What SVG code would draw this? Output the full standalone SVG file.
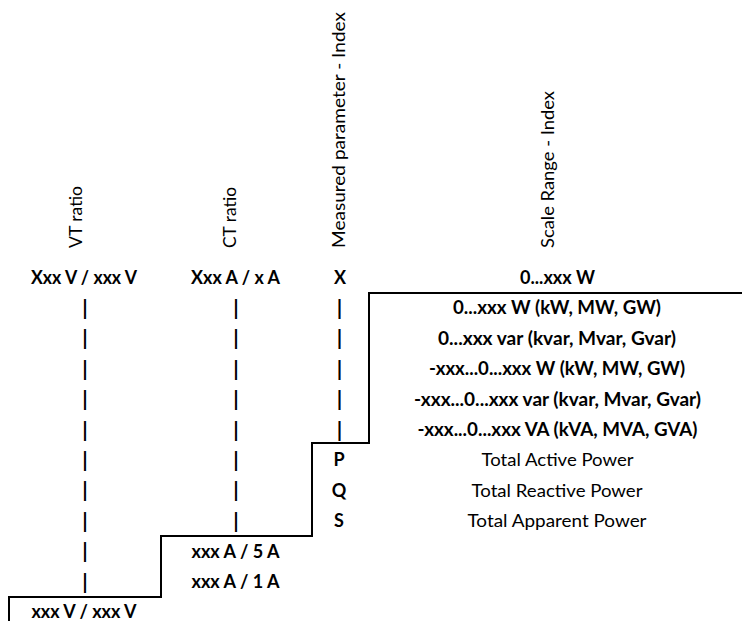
<svg xmlns="http://www.w3.org/2000/svg" width="742" height="621" viewBox="0 0 742 621">
<style>
text { font-family: Lato, "Open Sans", "Liberation Sans", sans-serif; font-size: 18px; fill: #000; }
.b { font-weight: 700; text-anchor: middle; }
.r { font-weight: 400; text-anchor: middle; }
.h { font-weight: 400; text-anchor: start; }
.bar { font-weight: 700; text-anchor: middle; font-size: 21px; }
.conn { fill: none; stroke: #000; stroke-width: 2; }
</style>
<rect width="742" height="621" fill="#fff"/>
<g id="headers">
  <text class="h" transform="translate(82,248) rotate(-90)" textLength="62" lengthAdjust="spacingAndGlyphs">VT ratio</text>
  <text class="h" transform="translate(236,248) rotate(-90)" textLength="61" lengthAdjust="spacingAndGlyphs">CT ratio</text>
  <text class="h" transform="translate(345,248) rotate(-90)" textLength="236" lengthAdjust="spacingAndGlyphs">Measured parameter - Index</text>
  <text class="h" transform="translate(554,248) rotate(-90)" textLength="157" lengthAdjust="spacingAndGlyphs">Scale Range - Index</text>
</g>
<g id="vt-ratio">
  <text class="b" x="84" y="284" textLength="106" lengthAdjust="spacingAndGlyphs">Xxx V / xxx V</text>
  <text class="bar" x="85" y="315">|</text>
  <text class="bar" x="85" y="345.4">|</text>
  <text class="bar" x="85" y="375.8">|</text>
  <text class="bar" x="85" y="406.2">|</text>
  <text class="bar" x="85" y="436.6">|</text>
  <text class="bar" x="85" y="467">|</text>
  <text class="bar" x="85" y="497.4">|</text>
  <text class="bar" x="85" y="527.8">|</text>
  <text class="bar" x="85" y="558.2">|</text>
  <text class="bar" x="85" y="588.6">|</text>
  <text class="b" x="84" y="618.4" textLength="105" lengthAdjust="spacingAndGlyphs">xxx V / xxx V</text>
</g>
<g id="ct-ratio">
  <text class="b" x="235.5" y="284" textLength="89" lengthAdjust="spacingAndGlyphs">Xxx A / x A</text>
  <text class="bar" x="236" y="315">|</text>
  <text class="bar" x="236" y="345.4">|</text>
  <text class="bar" x="236" y="375.8">|</text>
  <text class="bar" x="236" y="406.2">|</text>
  <text class="bar" x="236" y="436.6">|</text>
  <text class="bar" x="236" y="467">|</text>
  <text class="bar" x="236" y="497.4">|</text>
  <text class="bar" x="236" y="527.8">|</text>
  <text class="b" x="235.5" y="557.6" textLength="88" lengthAdjust="spacingAndGlyphs">xxx A / 5 A</text>
  <text class="b" x="235.5" y="588" textLength="88" lengthAdjust="spacingAndGlyphs">xxx A / 1 A</text>
</g>
<g id="measured-parameter">
  <text class="b" x="340" y="284">X</text>
  <text class="bar" x="339.5" y="315">|</text>
  <text class="bar" x="339.5" y="345.4">|</text>
  <text class="bar" x="339.5" y="375.8">|</text>
  <text class="bar" x="339.5" y="406.2">|</text>
  <text class="bar" x="339.5" y="436.6">|</text>
  <text class="b" x="339" y="466">P</text>
  <text class="b" x="339" y="496.6">Q</text>
  <text class="b" x="339" y="527">S</text>
</g>
<g id="scale-range">
  <text class="b" x="557.5" y="284" textLength="75" lengthAdjust="spacingAndGlyphs">0...xxx W</text>
  <text class="b" x="557" y="314.4" textLength="208" lengthAdjust="spacingAndGlyphs">0...xxx W (kW, MW, GW)</text>
  <text class="b" x="557" y="344.8" textLength="238" lengthAdjust="spacingAndGlyphs">0...xxx var (kvar, Mvar, Gvar)</text>
  <text class="b" x="557" y="375.2" textLength="256" lengthAdjust="spacingAndGlyphs">-xxx...0...xxx W (kW, MW, GW)</text>
  <text class="b" x="557.5" y="405.6" textLength="287" lengthAdjust="spacingAndGlyphs">-xxx...0...xxx var (kvar, Mvar, Gvar)</text>
  <text class="b" x="557.5" y="436" textLength="280" lengthAdjust="spacingAndGlyphs">-xxx...0...xxx VA (kVA, MVA, GVA)</text>
  <text class="r" x="557.5" y="466.4" textLength="152" lengthAdjust="spacingAndGlyphs">Total Active Power</text>
  <text class="r" x="557" y="496.8" textLength="171" lengthAdjust="spacingAndGlyphs">Total Reactive Power</text>
  <text class="r" x="557" y="527.2" textLength="179" lengthAdjust="spacingAndGlyphs">Total Apparent Power</text>
</g>
<g id="connectors">
  <path class="conn" d="M742,293 H369 V443 H312 V536 H161 V597 H9 V621"/>
</g>
</svg>
